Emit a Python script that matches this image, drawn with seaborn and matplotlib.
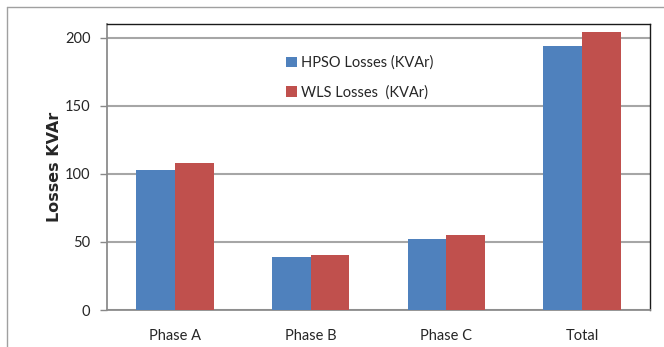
import matplotlib
matplotlib.use("Agg")
import matplotlib.pyplot as plt
import seaborn as sns
import pandas as pd
from matplotlib.lines import Line2D

categories = ["Phase A", "Phase B", "Phase C", "Total"]
hpso = [102.6, 38.7, 51.9, 193.7]
wls = [107.8, 40.6, 54.9, 203.8]
series_names = ["HPSO Losses (KVAr)", "WLS Losses  (KVAr)"]
yticks = [0, 50, 100, 150, 200]

df = pd.DataFrame({
    "cat": categories * 2,
    "val": hpso + wls,
    "series": [series_names[0]] * 4 + [series_names[1]] * 4,
})

sns.set_theme(style="white")
plt.rcParams["font.family"] = ["Lato", "DejaVu Sans"]

fig = plt.figure(figsize=(6.64, 3.47), dpi=100)
ax = fig.add_axes([107/664, 1 - 310/347, (650-107)/664, (310-24)/347])

sns.barplot(data=df, x="cat", y="val", hue="series", ax=ax, width=0.57,
            palette=["#4F81BD", "#C0504D"], saturation=1, zorder=3, linewidth=0)

ax.set_ylim(0, 210)
ax.set_xlim(-0.5, 3.5)
ax.set_yticks(yticks)
ax.set_yticklabels([str(t) for t in yticks], fontsize=10.5)
ax.yaxis.grid(True, color="#a6a6a6", linewidth=1.5, zorder=0)
ax.set_axisbelow(True)

ax.set_xticks([0, 1, 2, 3])
ax.set_xticklabels(categories, fontsize=10.5)
ax.set_xticks([-0.5, 0.5, 1.5, 2.5, 3.5], minor=True)
ax.tick_params(axis="x", which="major", length=0, pad=14)
ax.tick_params(axis="x", which="minor", length=5, color="#888888", width=1, direction="out")
ax.tick_params(axis="y", length=5, color="#888888", width=1, direction="out", left=True, pad=7)

ax.set_xlabel("")
ax.set_ylabel("Losses KVAr", fontsize=11.5, fontweight="bold",
              family=["DejaVu Sans"], labelpad=2)

for s in ["left", "bottom"]:
    ax.spines[s].set_color("#8c8c8c")
    ax.spines[s].set_linewidth(1.3)
for s in ["top", "right"]:
    ax.spines[s].set_color("#1a1a1a")
    ax.spines[s].set_linewidth(1.0)
    ax.spines[s].set_visible(True)

h, l = ax.get_legend_handles_labels()
ax.get_legend().remove()
ax.legend(h, l, loc="upper left", bbox_to_anchor=(0.305, 0.935), frameon=False,
          fontsize=10.5, labelspacing=1.05, handlelength=0.75, handleheight=0.75,
          handletextpad=0.3)

# outer chart border
fig.add_artist(Line2D([7/664, 1.0], [1 - 7/347, 1 - 7/347], color="#a0a0a0", linewidth=1.0,
                      transform=fig.transFigure))
fig.add_artist(Line2D([7/664, 7/664], [0, 1 - 7/347], color="#a0a0a0", linewidth=1.0,
                      transform=fig.transFigure))

fig.savefig("out.png", dpi=100)
